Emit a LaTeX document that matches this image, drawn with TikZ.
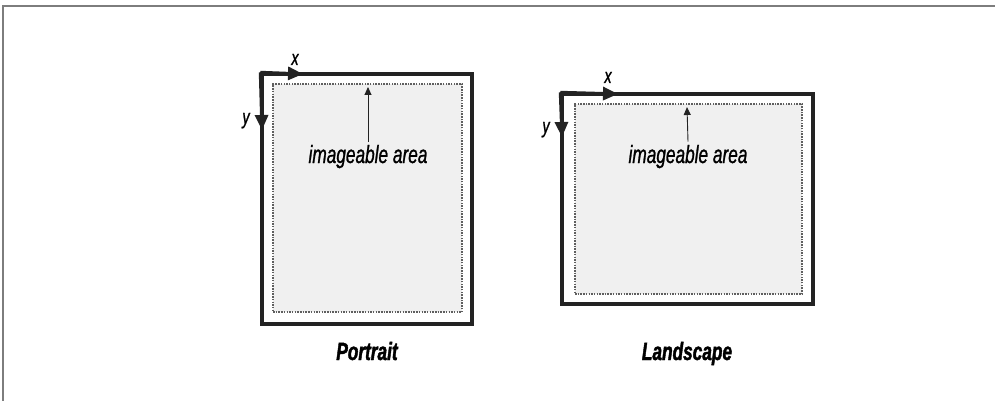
\documentclass[tikz,border=0pt]{standalone}
\usepackage{fontspec}
\newfontfamily\figfont[FakeStretch=0.69, BoldItalicFeatures={FakeBold=1.6}]{Liberation Sans}
\newfontfamily\notefont[FakeStretch=0.69, ItalicFeatures={FakeBold=1.0}]{Liberation Sans}
\usetikzlibrary{arrows.meta,positioning}
\definecolor{Cedge}{RGB}{35,35,35}
\definecolor{Cdot}{RGB}{95,95,95}
\definecolor{Cpaper}{RGB}{240,240,240}
\definecolor{Cframe}{RGB}{125,125,125}
\tikzset{
    sheet/.style={
        rectangle, draw=Cedge, line width=3.2pt, fill=white, inner sep=0pt
    },
    printarea/.style={
        rectangle, draw=Cdot, line width=1.4pt, dash pattern=on 1.5pt off 1.2pt,
        fill=Cpaper, inner sep=0pt
    },
    axisarr/.style={-{Triangle[length=15pt, width=13pt]}, line width=3.2pt, Cedge},
    notearr/.style={-{Triangle[length=8pt, width=7pt]}, line width=0.9pt, Cedge},
    notelbl/.style={font=\notefont\itshape\fontsize{25}{28}\selectfont, inner sep=0pt, anchor=base},
    axislbl/.style={font=\notefont\itshape\fontsize{21}{24}\selectfont, inner sep=0pt, anchor=base},
    caplbl/.style={font=\figfont\bfseries\itshape\fontsize{25}{28}\selectfont, inner sep=0pt, anchor=base},
}
\begin{document}
\begin{tikzpicture}[x=1pt, y=-1pt]
    \useasboundingbox (0,0) rectangle (995,401);

    % ── frame ───────────────────────────────────────────
    \draw [Cframe, line width=2pt] (3,401) -- (3,6) -- (995,6);

    % ── portrait sheet ──────────────────────────────────
    \node [sheet, minimum width=210pt, minimum height=250pt] (portrait) at (367,199) {};
    \node [printarea, minimum width=189pt, minimum height=228pt] (pinner) at (367.5,198) {};
    \coordinate (px) at (303,74);
    \coordinate (py) at (262,130);
    \draw [axisarr] (portrait.north west) -- (px);
    \draw [axisarr] (portrait.north west) -- (py);
    \node [axislbl] (pxlbl) at (295,65) {x};
    \node [axislbl] (pylbl) at (246,124) {y};
    \node [notelbl] (ptext) at (368,163) {imageable area};
    \coordinate (ptip) at (368,87);
    \draw [notearr] ([yshift=3pt]ptext.north) -- (ptip);
    \node [caplbl] (pcap) at (367,360) {Portrait};

    % ── landscape sheet ─────────────────────────────────
    \node [sheet, minimum width=251pt, minimum height=210pt] (landscape) at (687.5,199) {};
    \node [printarea, minimum width=227pt, minimum height=190pt] (linner) at (688.5,199) {};
    \coordinate (lx) at (618,94);
    \coordinate (ly) at (562,137);
    \draw [axisarr] (landscape.north west) -- (lx);
    \draw [axisarr] (landscape.north west) -- (ly);
    \node [axislbl] (lxlbl) at (608,83) {x};
    \node [axislbl] (lylbl) at (546,133) {y};
    \node [notelbl] (ltext) at (688,163) {imageable area};
    \coordinate (ltip) at (687,107);
    \draw [notearr] ([yshift=3pt]ltext.north) -- (ltip);
    \node [caplbl] (lcap) at (687,360) {Landscape};

\end{tikzpicture}
\end{document}
